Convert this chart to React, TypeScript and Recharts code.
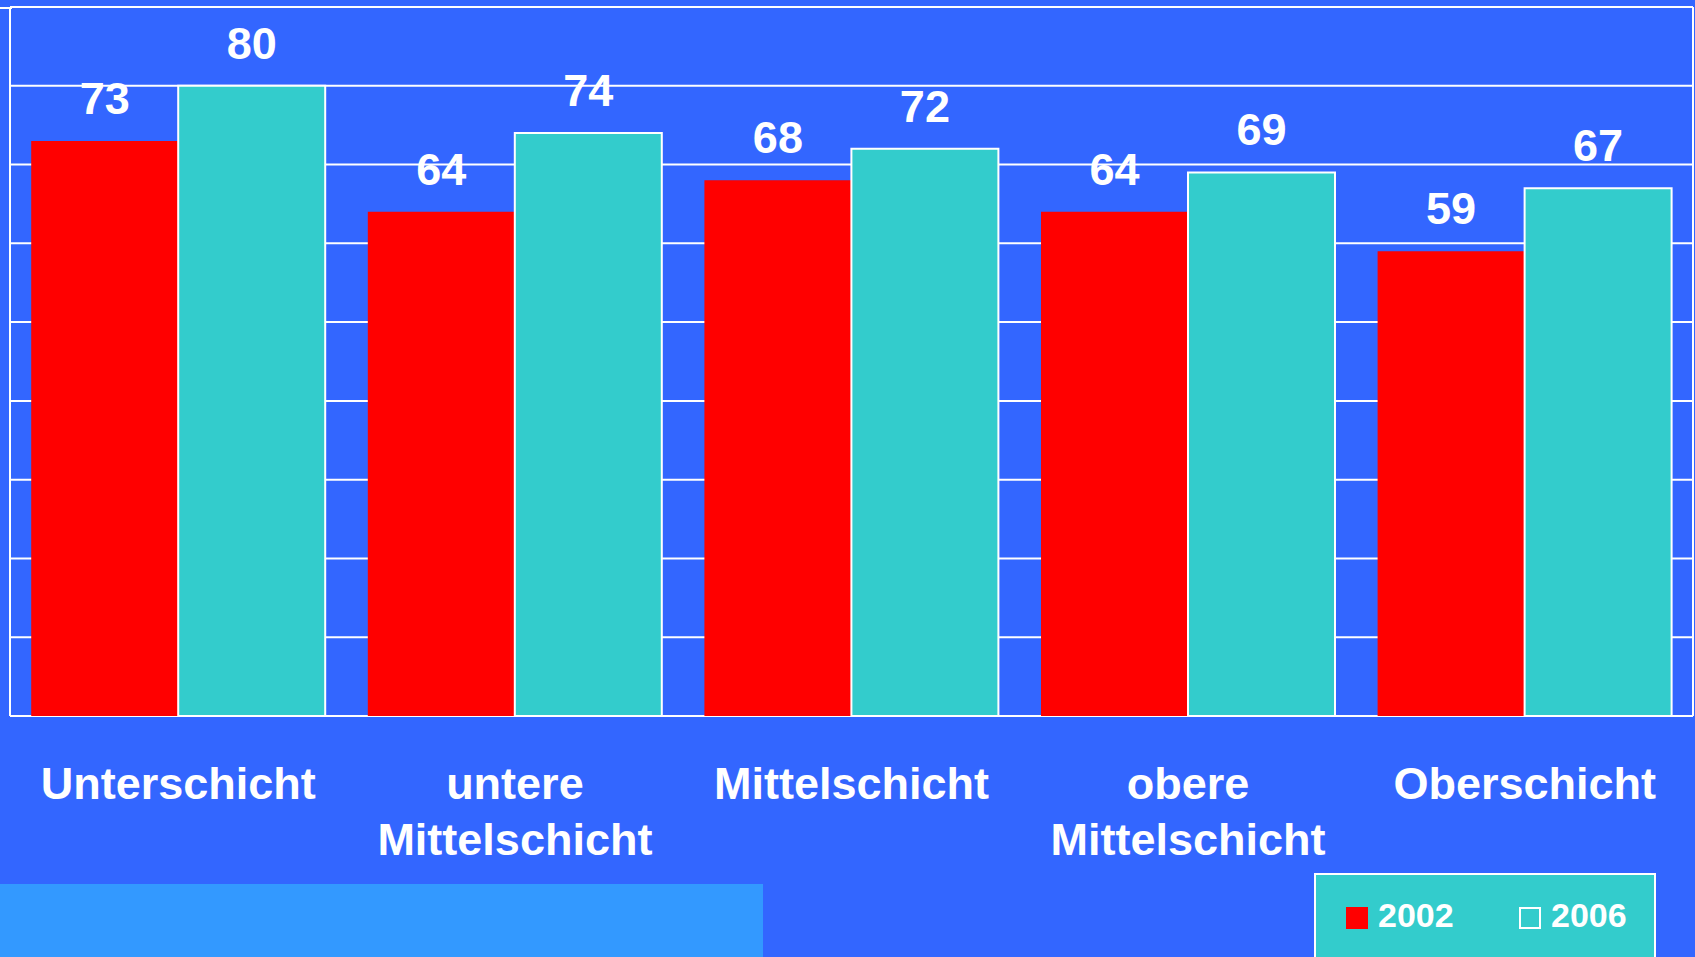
import React from 'react';
import { BarChart, Bar, XAxis, YAxis, CartesianGrid, LabelList, Legend } from 'recharts';

const categories = ['Unterschicht', 'untere Mittelschicht', 'Mittelschicht', 'obere Mittelschicht', 'Oberschicht'];
const values2002 = [73, 64, 68, 64, 59];
const values2006 = [80, 74, 72, 69, 67];
const yTicks = [0, 10, 20, 30, 40, 50, 60, 70, 80, 90];
const seriesNames = ['2002', '2006'];

const data = categories.map((c, i) => ({ name: c, v2002: values2002[i], v2006: values2006[i] }));

const FONT = '"Liberation Sans", Arial, sans-serif';
const BG = '#3366FF';
const TEAL = '#33CCCC';
const RED = '#FF0000';

const renderTick = (props: any) => {
  const { x, y, payload } = props;
  const lines = String(payload.value).split(' ');
  return (
    <text x={x} y={y} textAnchor="middle" fill="#fff" fontSize={45} fontWeight="bold" fontFamily={FONT}>
      {lines.map((l, i) => (
        <tspan key={i} x={x} y={y + 83 + i * 56}>{l}</tspan>
      ))}
    </text>
  );
};

const renderLegend = () => (
  <div style={{ position: 'relative', width: 342, height: 84, background: TEAL, borderTop: '2px solid #fff', borderLeft: '2px solid #fff', borderRight: '2px solid #fff', boxSizing: 'border-box', fontFamily: FONT, fontWeight: 'bold', fontSize: 34, color: '#fff' }}>
    <div style={{ position: 'absolute', left: 30, top: 32, width: 22, height: 22, background: RED }} />
    <div style={{ position: 'absolute', left: 62, top: 20, lineHeight: '40px' }}>{seriesNames[0]}</div>
    <div style={{ position: 'absolute', left: 203, top: 32, width: 22, height: 22, border: '2px solid #fff', boxSizing: 'border-box' }} />
    <div style={{ position: 'absolute', left: 235, top: 20, lineHeight: '40px' }}>{seriesNames[1]}</div>
  </div>
);

const hGen = (args: any) => {
  const yAxis = args && args.yAxis;
  if (yAxis && typeof yAxis.scale === 'function') {
    return yTicks.map((t) => yAxis.scale(t));
  }
  const off = args.offset;
  return yTicks.map((t) => off.top + off.height - (t / 90) * off.height);
};

export default function App() {
  return (
    <div style={{ position: 'absolute', left: 0, top: 0, width: 1695, height: 957, background: BG, overflow: 'hidden' }}>
      <div style={{ position: 'absolute', left: 0, top: 884, width: 763, height: 73, background: '#3399FF' }} />
      <div style={{ position: 'absolute', left: 0, top: 7, width: 12, height: 2, background: '#fff' }} />
      <div style={{ position: 'absolute', left: 0, top: 0 }}>
        <BarChart
          width={1695}
          height={957}
          data={data}
          margin={{ top: 7, left: 10, right: 2, bottom: 121 }}
          barCategoryGap="6.3%"
          barGap={0}
          style={{ fontFamily: FONT }}
        >
          <CartesianGrid stroke="#fff" strokeWidth={2} verticalPoints={[10, 1693]} horizontalCoordinatesGenerator={hGen} />
          <XAxis dataKey="name" height={120} tick={renderTick} tickLine={false} axisLine={false} tickSize={0} tickMargin={0} interval={0} />
          <YAxis width={0} domain={[0, 90]} ticks={yTicks} tick={false} tickLine={false} axisLine={false} />
          <Legend
            layout="vertical"
            align="center"
            verticalAlign="middle"
            content={renderLegend}
            wrapperStyle={{ position: 'absolute', left: 1314, top: 873, width: 342, height: 84 }}
          />
          <Bar dataKey="v2002" name={seriesNames[0]} fill={RED} isAnimationActive={false}>
            <LabelList dataKey="v2002" position="top" offset={27} fill="#fff" fontSize={45} fontWeight="bold" fontFamily={FONT} />
          </Bar>
          <Bar dataKey="v2006" name={seriesNames[1]} fill={TEAL} stroke="#fff" strokeWidth={2} isAnimationActive={false}>
            <LabelList dataKey="v2006" position="top" offset={27} fill="#fff" fontSize={45} fontWeight="bold" fontFamily={FONT} />
          </Bar>
        </BarChart>
      </div>
    </div>
  );
}
